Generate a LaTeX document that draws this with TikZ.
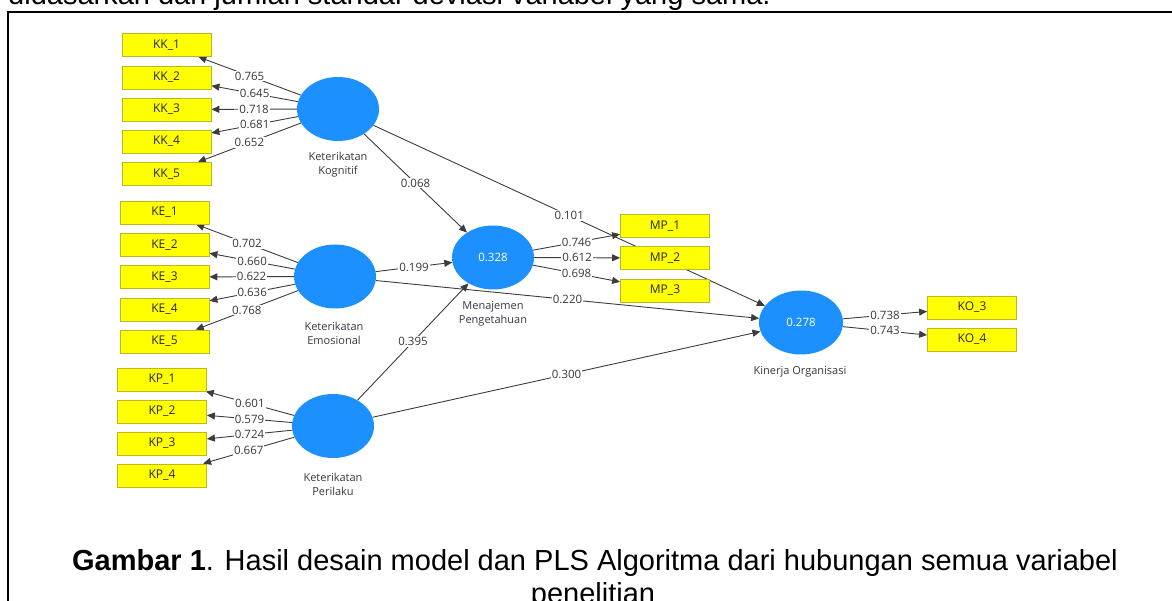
\documentclass[tikz,border=0pt]{standalone}
\usepackage{fontspec}
\setmainfont{Liberation Sans}
\newfontfamily\diagfont{Open Sans}
\usetikzlibrary{shapes.geometric,arrows.meta}
\pgfdeclarelayer{bg}
\pgfsetlayers{bg,main}
\definecolor{lvblue}{RGB}{28,144,255}
\definecolor{mvyellow}{RGB}{255,255,0}
\definecolor{mvborder}{RGB}{185,185,40}
\definecolor{linegray}{RGB}{60,60,60}
\definecolor{txtgray}{RGB}{55,55,65}
\begin{document}
\begin{tikzpicture}[x=1pt,y=-1pt,
 lv/.style={ellipse,fill=lvblue,draw=none,minimum width=82pt,minimum height=64pt,inner sep=0pt,text=white,font=\diagfont\fontsize{11.5}{13}\selectfont},
 mv/.style={rectangle,fill=mvyellow,draw=mvborder,line width=0.8pt,minimum width=89pt,minimum height=23pt,inner sep=0pt,font=\diagfont\fontsize{12}{14}\selectfont,text=black!85},
 lvname/.style={align=center,font=\diagfont\fontsize{11}{14}\selectfont,text=txtgray,inner sep=0pt},
 conn/.style={draw=linegray,line width=0.9pt,-{Triangle[length=8pt,width=7pt]}},
 coef/.style={fill=white,inner sep=1pt,font=\diagfont\fontsize{11.5}{13}\selectfont,text=txtgray},
 bigtext/.style={inner sep=0pt,font=\fontsize{29}{33}\selectfont}
]
\useasboundingbox (0,0) rectangle (1172,601);
\clip (0,0) rectangle (1172,601);

% frame and surrounding text
\draw[line width=2pt] (8,700) -- (8,12) -- (1200,12);
\node[bigtext,anchor=base west] (toptext) at (8,5) {didasarkan dari jumlah standar deviasi variabel yang sama.};
\node[bigtext,anchor=base] (cap1) at (595,570) {\textbf{Gambar 1}. Hasil desain model dan PLS Algoritma dari hubungan semua variabel};
\node[bigtext,anchor=base] (cap2) at (593,603) {penelitian};

% latent variables
\node[lv] (kk) at (338,109) {};
\node[lv] (ke) at (335,276.5) {};
\node[lv] (kp) at (333,426) {};
\node[lv] (mp) at (493,257.5) {0.328};
\node[lv,minimum width=84pt] (ko) at (801,322.5) {0.278};

\node[lvname] (kkname) at (338,165) {Keterikatan\\Kognitif};
\node[lvname] (kename) at (334,333) {Keterikatan\\Emosional};
\node[lvname] (kpname) at (333,484) {Keterikatan\\Perilaku};
\node[lvname] (mpname) at (493,314) {Menajemen\\Pengetahuan};
\node[lvname] (koname) at (800,372) {Kinerja Organisasi};

% indicators
\node[mv] (kk1) at (166.5,45) {KK\_1};
\node[mv] (kk2) at (166.5,77.5) {KK\_2};
\node[mv] (kk3) at (166.5,109.5) {KK\_3};
\node[mv] (kk4) at (166.5,141.5) {KK\_4};
\node[mv] (kk5) at (166.5,174) {KK\_5};

\node[mv] (ke1) at (164.5,212.5) {KE\_1};
\node[mv] (ke2) at (164.5,245) {KE\_2};
\node[mv] (ke3) at (164.5,277) {KE\_3};
\node[mv] (ke4) at (164.5,309.5) {KE\_4};
\node[mv] (ke5) at (164.5,341.5) {KE\_5};

\node[mv] (kp1) at (162,379.5) {KP\_1};
\node[mv] (kp2) at (162,411.5) {KP\_2};
\node[mv] (kp3) at (162,443.5) {KP\_3};
\node[mv] (kp4) at (162,475.5) {KP\_4};

\node[mv] (mp1) at (665,226) {MP\_1};
\node[mv] (mp2) at (665,258) {MP\_2};
\node[mv] (mp3) at (665,290.5) {MP\_3};

\node[mv] (ko3) at (972,307.5) {KO\_3};
\node[mv] (ko4) at (972,339.5) {KO\_4};

\begin{pgfonlayer}{bg}
\draw[conn] (kk) -- (kk1) node[coef,midway] (l1) {0.765};
\draw[conn] (kk) -- (kk2) node[coef,midway] (l2) {0.645};
\draw[conn] (kk) -- (kk3) node[coef,midway] (l3) {0.718};
\draw[conn] (kk) -- (kk4) node[coef,midway] (l4) {0.681};
\draw[conn] (kk) -- (kk5) node[coef,midway] (l5) {0.652};

\draw[conn] (ke) -- (ke1) node[coef,midway] (l6) {0.702};
\draw[conn] (ke) -- (ke2) node[coef,midway] (l7) {0.660};
\draw[conn] (ke) -- (ke3) node[coef,midway] (l8) {0.622};
\draw[conn] (ke) -- (ke4) node[coef,midway] (l9) {0.636};
\draw[conn] (ke) -- (ke5) node[coef,midway] (l10) {0.768};

\draw[conn] (kp) -- (kp1) node[coef,midway] (l11) {0.601};
\draw[conn] (kp) -- (kp2) node[coef,midway] (l12) {0.579};
\draw[conn] (kp) -- (kp3) node[coef,midway] (l13) {0.724};
\draw[conn] (kp) -- (kp4) node[coef,midway] (l14) {0.667};

\draw[conn] (mp) -- (mp1) node[coef,midway] (l15) {0.746};
\draw[conn] (mp) -- (mp2) node[coef,midway] (l16) {0.612};
\draw[conn] (mp) -- (mp3) node[coef,midway] (l17) {0.698};

\draw[conn] (ko) -- (ko3) node[coef,midway] (l18) {0.738};
\draw[conn] (ko) -- (ko4) node[coef,midway] (l19) {0.743};

\draw[conn] (kk) -- (mp) node[coef,midway] (p1) {0.068};
\draw[conn] (kk) -- (ko) node[coef,midway] (p2) {0.101};
\draw[conn] (ke) -- (mp) node[coef,midway] (p3) {0.199};
\draw[conn] (ke) -- (ko) node[coef,midway] (p4) {0.220};
\draw[conn] (kp) -- (mp) node[coef,midway] (p5) {0.395};
\draw[conn] (kp) -- (ko) node[coef,midway] (p6) {0.300};
\end{pgfonlayer}
\end{tikzpicture}
\end{document}
